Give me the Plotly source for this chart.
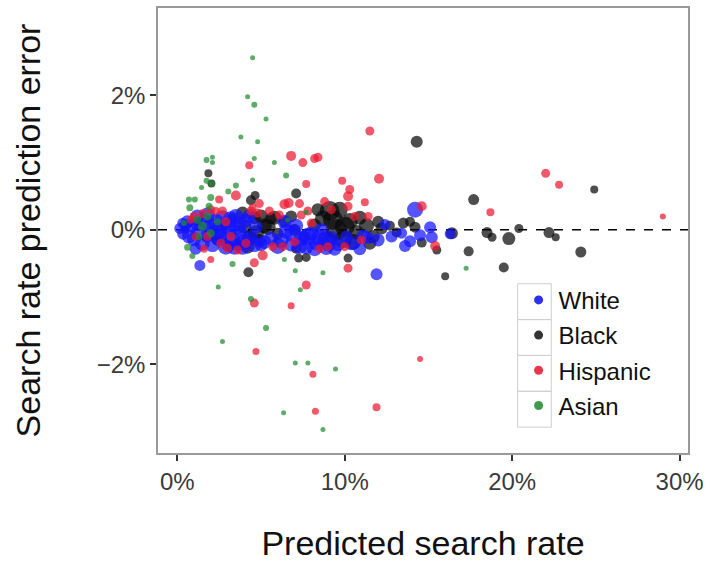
import plotly.graph_objects as go

# ---------------- data (percent units) ----------------
white_x = [0.15, 0.35, 0.5, 0.7, 0.85, 1.0, 1.15, 1.3, 1.5, 1.65, 1.9, 2.1, 2.3, 2.5, 2.7, 2.9, 3.1, 3.3, 3.5, 3.7,
           3.9, 4.1, 4.4, 4.7, 5.0, 5.6, 6.2, 6.5, 6.8, 7.1, 7.4, 7.7, 8.0, 8.3, 8.6, 8.9, 9.2, 9.6,
           10.1, 10.9, 11.4, 11.9, 1.35, 12.4, 13.6, 13.9, 14.2, 15.1, 15.2, 13.4, 14.5, 16.3,
           0.6, 1.2, 1.8, 2.0, 2.4, 2.8, 3.2, 3.4, 3.6, 4.0, 4.3, 4.6, 5.2, 6.0, 6.4, 6.9, 7.3, 7.8, 8.2,
           8.5, 9.0, 9.4, 10.4, 11.1, 12.0, 12.8, 1.1, 0.3]
white_y = [0.02, -0.06, 0.07, -0.1, 0.06, -0.14, 0.1, -0.03, -0.2, 0.13, -0.06, -0.22, 0.12, -0.12, 0.18, -0.25, 0.03, -0.17, 0.2, -0.05,
           -0.26, 0.14, -0.12, 0.04, -0.22, -0.13, -0.16, -0.02, -0.22, 0.06, -0.13, -0.26, -0.05, -0.19, 0.0, -0.27, -0.12, -0.22,
           -0.1, -0.28, -0.12, -0.66, -0.53, 0.08, -0.24, -0.17, 0.30, 0.04, -0.11, -0.05, -0.08, -0.06,
           0.12, 0.2, 0.22, 0.05, -0.02, -0.08, 0.15, -0.25, 0.05, -0.18, 0.2, -0.22, -0.18, -0.24, 0.12, -0.06, -0.24, -0.1, -0.28,
           -0.12, -0.2, -0.28, -0.2, -0.1, -0.15, -0.1, -0.28, 0.1]
white_s = [11, 12, 12, 14, 14, 14, 13, 16, 15, 14, 16, 15, 16, 17, 15, 16, 17, 17, 15, 16,
           15, 14, 14, 13, 13, 14, 15, 15, 14, 14, 15, 14, 14, 15, 13, 14, 14, 13,
           12, 13, 12, 12, 11, 11, 12, 12, 16, 12, 12, 11, 12, 11,
           13, 14, 15, 17, 18, 18, 17, 16, 18, 16, 14, 15, 14, 16, 14, 17, 16, 17, 15,
           17, 16, 14, 14, 14, 13, 12, 12, 10]

black_x = [0.45, 1.2, 1.7, 2.35, 2.8, 3.3, 3.6, 4.0, 4.3, 4.6, 4.9, 5.2, 5.6, 6.0, 6.4, 7.0, 7.6, 8.2, 8.7, 9.1,
           9.5, 9.9, 10.3, 10.7, 11.3, 11.7, 12.2, 12.7, 13.1, 13.5, 13.9, 14.2, 14.6, 15.5, 16.4, 18.5, 18.8, 19.8, 20.4, 22.2,
           22.6, 24.1, 17.4, 19.5, 16.0, 14.3, 17.7, 24.9, 1.86, 2.04, 7.1, 4.4, 4.65, 10.2, 7.25, 7.7, 7.1, 4.25,
           3.9, 4.2, 4.7, 5.0, 8.9, 9.3, 9.7, 10.0, 10.5, 10.9, 11.5, 12.0, 8.4, 6.8, 3.0, 5.4, 5.8]
black_y = [0.0, 0.12, -0.12, -0.15, 0.05, 0.17, -0.22, 0.05, -0.12, 0.18, -0.16, 0.06, 0.17, -0.06, 0.12, 0.0, -0.1, 0.07, 0.17, 0.28,
           0.0, -0.14, 0.13, -0.04, 0.06, -0.1, 0.02, 0.06, -0.04, 0.1, 0.12, 0.04, -0.19, -0.3, -0.05, -0.04, -0.11, -0.13, 0.02, -0.04,
           -0.11, -0.33, -0.32, -0.56, -0.69, 1.31, 0.45, 0.60, 0.84, 0.69, 0.54, 0.44, 0.51, -0.42, -0.42, -0.41, -0.28, -0.63,
           0.25, -0.25, -0.05, 0.2, -0.15, 0.15, 0.3, 0.05, -0.18, 0.18, -0.2, 0.12, 0.3, 0.2, -0.25, 0.04, 0.18]
black_s = [8, 8, 9, 10, 9, 10, 11, 14, 15, 13, 13, 15, 12, 12, 11, 12, 12, 13, 16, 20,
           21, 18, 16, 15, 15, 13, 12, 10, 10, 11, 10, 11, 10, 9, 12, 11, 9, 13, 9, 11,
           8, 11, 10, 10, 8, 12, 11, 8, 8, 8, 10, 10, 9, 9, 9, 9, 10, 10,
           13, 14, 16, 14, 18, 20, 16, 20, 16, 14, 13, 12, 13, 12, 10, 16, 14]

hisp_x = [11.5, 6.8, 7.5, 8.2, 8.4, 4.3, 12.05, 7.7, 9.85, 10.3, 10.2, 11.2, 3.5, 2.5, 7.3, 8.8, 4.9, 6.4, 6.65, 10.2,
          4.5, 22.0, 22.8, 18.7, 29.0, 14.6, 15.4, 10.2, 7.7, 4.6, 5.1, 4.6, 2.0, 1.6, 6.8, 4.7, 8.1, 14.5, 11.9, 8.25,
          1.0, 1.5, 1.8, 2.6, 2.9, 3.2, 4.1, 4.8, 5.7, 6.1, 7.0, 7.4, 8.0, 8.5, 9.2,
          10.0, 10.6, 11.0, 1.1, 2.3,
          2.0, 2.7, 3.0, 4.4, 5.5, 6.3, 7.8, 9.0, 11.4, 0.8, 3.6]
hisp_y = [1.47, 1.10, 1.0, 1.06, 1.08, 0.96, 0.76, 0.68, 0.73, 0.60, 0.50, 0.41, 0.51, 0.45, 0.39, 0.42, 0.39, 0.38, 0.40, 0.35,
          0.33, 0.84, 0.67, 0.26, 0.20, 0.35, -0.24, -0.57, -0.82, -1.09, -0.38, -0.49, -0.44, -0.28, -1.13, -1.81, -2.15, -1.92, -2.64, -2.70,
          0.2, 0.24, -0.1, -0.2, 0.12, -0.1, -0.2, 0.25, -0.25, 0.22, -0.18, 0.22, 0.1, -0.28, 0.3,
          -0.25, 0.2, -0.15, -0.1, 0.28,
          0.3, 0.28, -0.27, 0.28, 0.28, -0.25, 0.28, -0.25, 0.2, 0.15, -0.3]
hisp_s = [9, 10, 9, 9, 9, 8, 10, 8, 8, 9, 10, 8, 10, 8, 9, 9, 9, 10, 10, 9,
          8, 9, 8, 8, 6, 10, 10, 9, 9, 9, 10, 9, 7, 8, 7, 7, 7, 6, 8, 7,
          9, 9, 9, 9, 9, 9, 9, 9, 9, 9, 9, 9, 9, 9, 9,
          9, 9, 9, 8, 8,
          9, 9, 9, 9, 9, 9, 9, 9, 9, 8, 9]

asian_x = [4.5, 4.2, 4.6, 5.3, 3.8, 4.8, 4.6, 1.75, 2.1, 2.1, 5.8, 4.5, 6.5, 1.75, 2.05, 1.45, 3.5, 3.05, 0.7, 1.05,
           2.0, 0.75, 1.9, 7.7, 1.2, 1.5, 1.8, 2.0, 1.3, 2.4, 0.4, 0.62, 0.9, 2.45, 3.3, 6.4, 7.05, 8.7, 7.35, 4.4,
           5.3, 2.7, 7.05, 7.8, 9.45, 6.35, 8.7, 17.25, 6.6]
asian_y = [2.56, 1.98, 1.86, 1.65, 1.38, 1.31, 1.06, 1.04, 1.08, 1.0, 1.0, 0.74, 0.81, 0.73, 0.68, 0.63, 0.66, 0.57, 0.45, 0.45,
           0.48, 0.33, 0.35, 0.26, 0.15, 0.05, 0.2, -0.05, -0.1, 0.12, 0.1, -0.26, -0.39, -0.85, -0.51, -0.44, -0.61, -0.64, -0.89, -1.03,
           -1.46, -1.66, -1.98, -1.98, -2.07, -2.72, -2.97, -0.57, 0.15]
asian_s = [5, 5, 6, 5, 5, 5, 5, 6, 5, 5, 5, 5, 6, 6, 6, 5, 6, 6, 6, 6,
           7, 7, 7, 5, 8, 9, 8, 8, 7, 7, 6, 7, 6, 5, 6, 5, 5, 5, 5, 6,
           6, 5, 5, 5, 5, 5, 5, 5, 5]

groups = ["White", "Black", "Hispanic", "Asian"]
colors = ["rgb(20,20,255)", "rgb(10,10,10)", "rgb(235,25,50)", "rgb(30,140,45)"]
legend_colors = ["#2f2ff0", "#333333", "#e8364d", "#3d9a4a"]
draw_order = [1, 0, 2, 3]  # Black first, then White, Hispanic, Asian
xticks = [0, 10, 20, 30]
yticks = [-2, 0, 2]
x_title = "Predicted search rate"
y_title = "Search rate prediction error"

series = [(white_x, white_y, white_s), (black_x, black_y, black_s),
          (hisp_x, hisp_y, hisp_s), (asian_x, asian_y, asian_s)]

FONT = "Liberation Sans, Arial, Helvetica, sans-serif"

fig = go.Figure()
for i in draw_order:
    xs, ys, ss = series[i]
    fig.add_trace(go.Scatter(
        x=xs, y=ys, mode="markers", name=groups[i], showlegend=False,
        marker=dict(size=ss, color=colors[i], opacity=0.72, line=dict(width=0)),
    ))

# legend entries (uniform key size)
for name, col in zip(groups, legend_colors):
    fig.add_trace(go.Scatter(
        x=[None], y=[None], mode="markers", name=name, legendgroup=name,
        marker=dict(size=9, color=col),
    ))

# plot-area geometry (pixels)
L, R, T, B = 158, 17, 6, 113
W, H = 710, 566
pw, ph = W - L - R, H - T - B

def px_x(p):
    return (p - L) / pw

def px_y(p):
    return (H - B - p) / ph

shapes = [dict(type="line", xref="paper", yref="y", x0=0, x1=1, y0=0, y1=0,
               line=dict(color="black", width=1.5, dash="dash"), layer="below")]
row_edges = [283, 319, 355, 391, 427]
for i in range(4):
    shapes.append(dict(type="rect", xref="paper", yref="paper",
                       x0=px_x(521), x1=px_x(555), y0=px_y(row_edges[i + 1]), y1=px_y(row_edges[i]),
                       line=dict(color="#cfcfcf", width=1), fillcolor="rgba(0,0,0,0)", layer="above"))

fig.update_layout(
    width=W, height=H,
    margin=dict(l=L, r=R, t=T, b=B, pad=0),
    paper_bgcolor="white", plot_bgcolor="white",
    font=dict(family=FONT, color="#222"),
    shapes=shapes,
    legend=dict(x=px_x(522), y=px_y(277), xanchor="left", yanchor="top",
                font=dict(size=24, color="#111", family=FONT),
                bgcolor="rgba(0,0,0,0)", traceorder="grouped", tracegroupgap=1,
                itemclick=False),
    xaxis=dict(range=[-1.15, 30.5], tickvals=xticks, ticktext=[f"{v}%" for v in xticks],
               showgrid=False, zeroline=False, showline=True, mirror=True,
               linecolor="#9a9a9a", linewidth=1.5,
               ticks="outside", ticklen=6, tickwidth=1.5, tickcolor="#333",
               tickfont=dict(size=24, color="#3a3a3a"),
               title=dict(text=x_title, font=dict(size=34, color="#111"), standoff=38)),
    yaxis=dict(range=[-3.32, 3.30], tickvals=yticks, ticktext=["\u22122%", "0%", "2%"],
               showgrid=False, zeroline=False, showline=True, mirror=True,
               linecolor="#9a9a9a", linewidth=1.5,
               ticks="outside", ticklen=6, tickwidth=1.5, tickcolor="#333",
               tickfont=dict(size=24, color="#3a3a3a"),
               title=dict(text=y_title, font=dict(size=34, color="#111"), standoff=46)),
)

fig.write_html("out.html")
